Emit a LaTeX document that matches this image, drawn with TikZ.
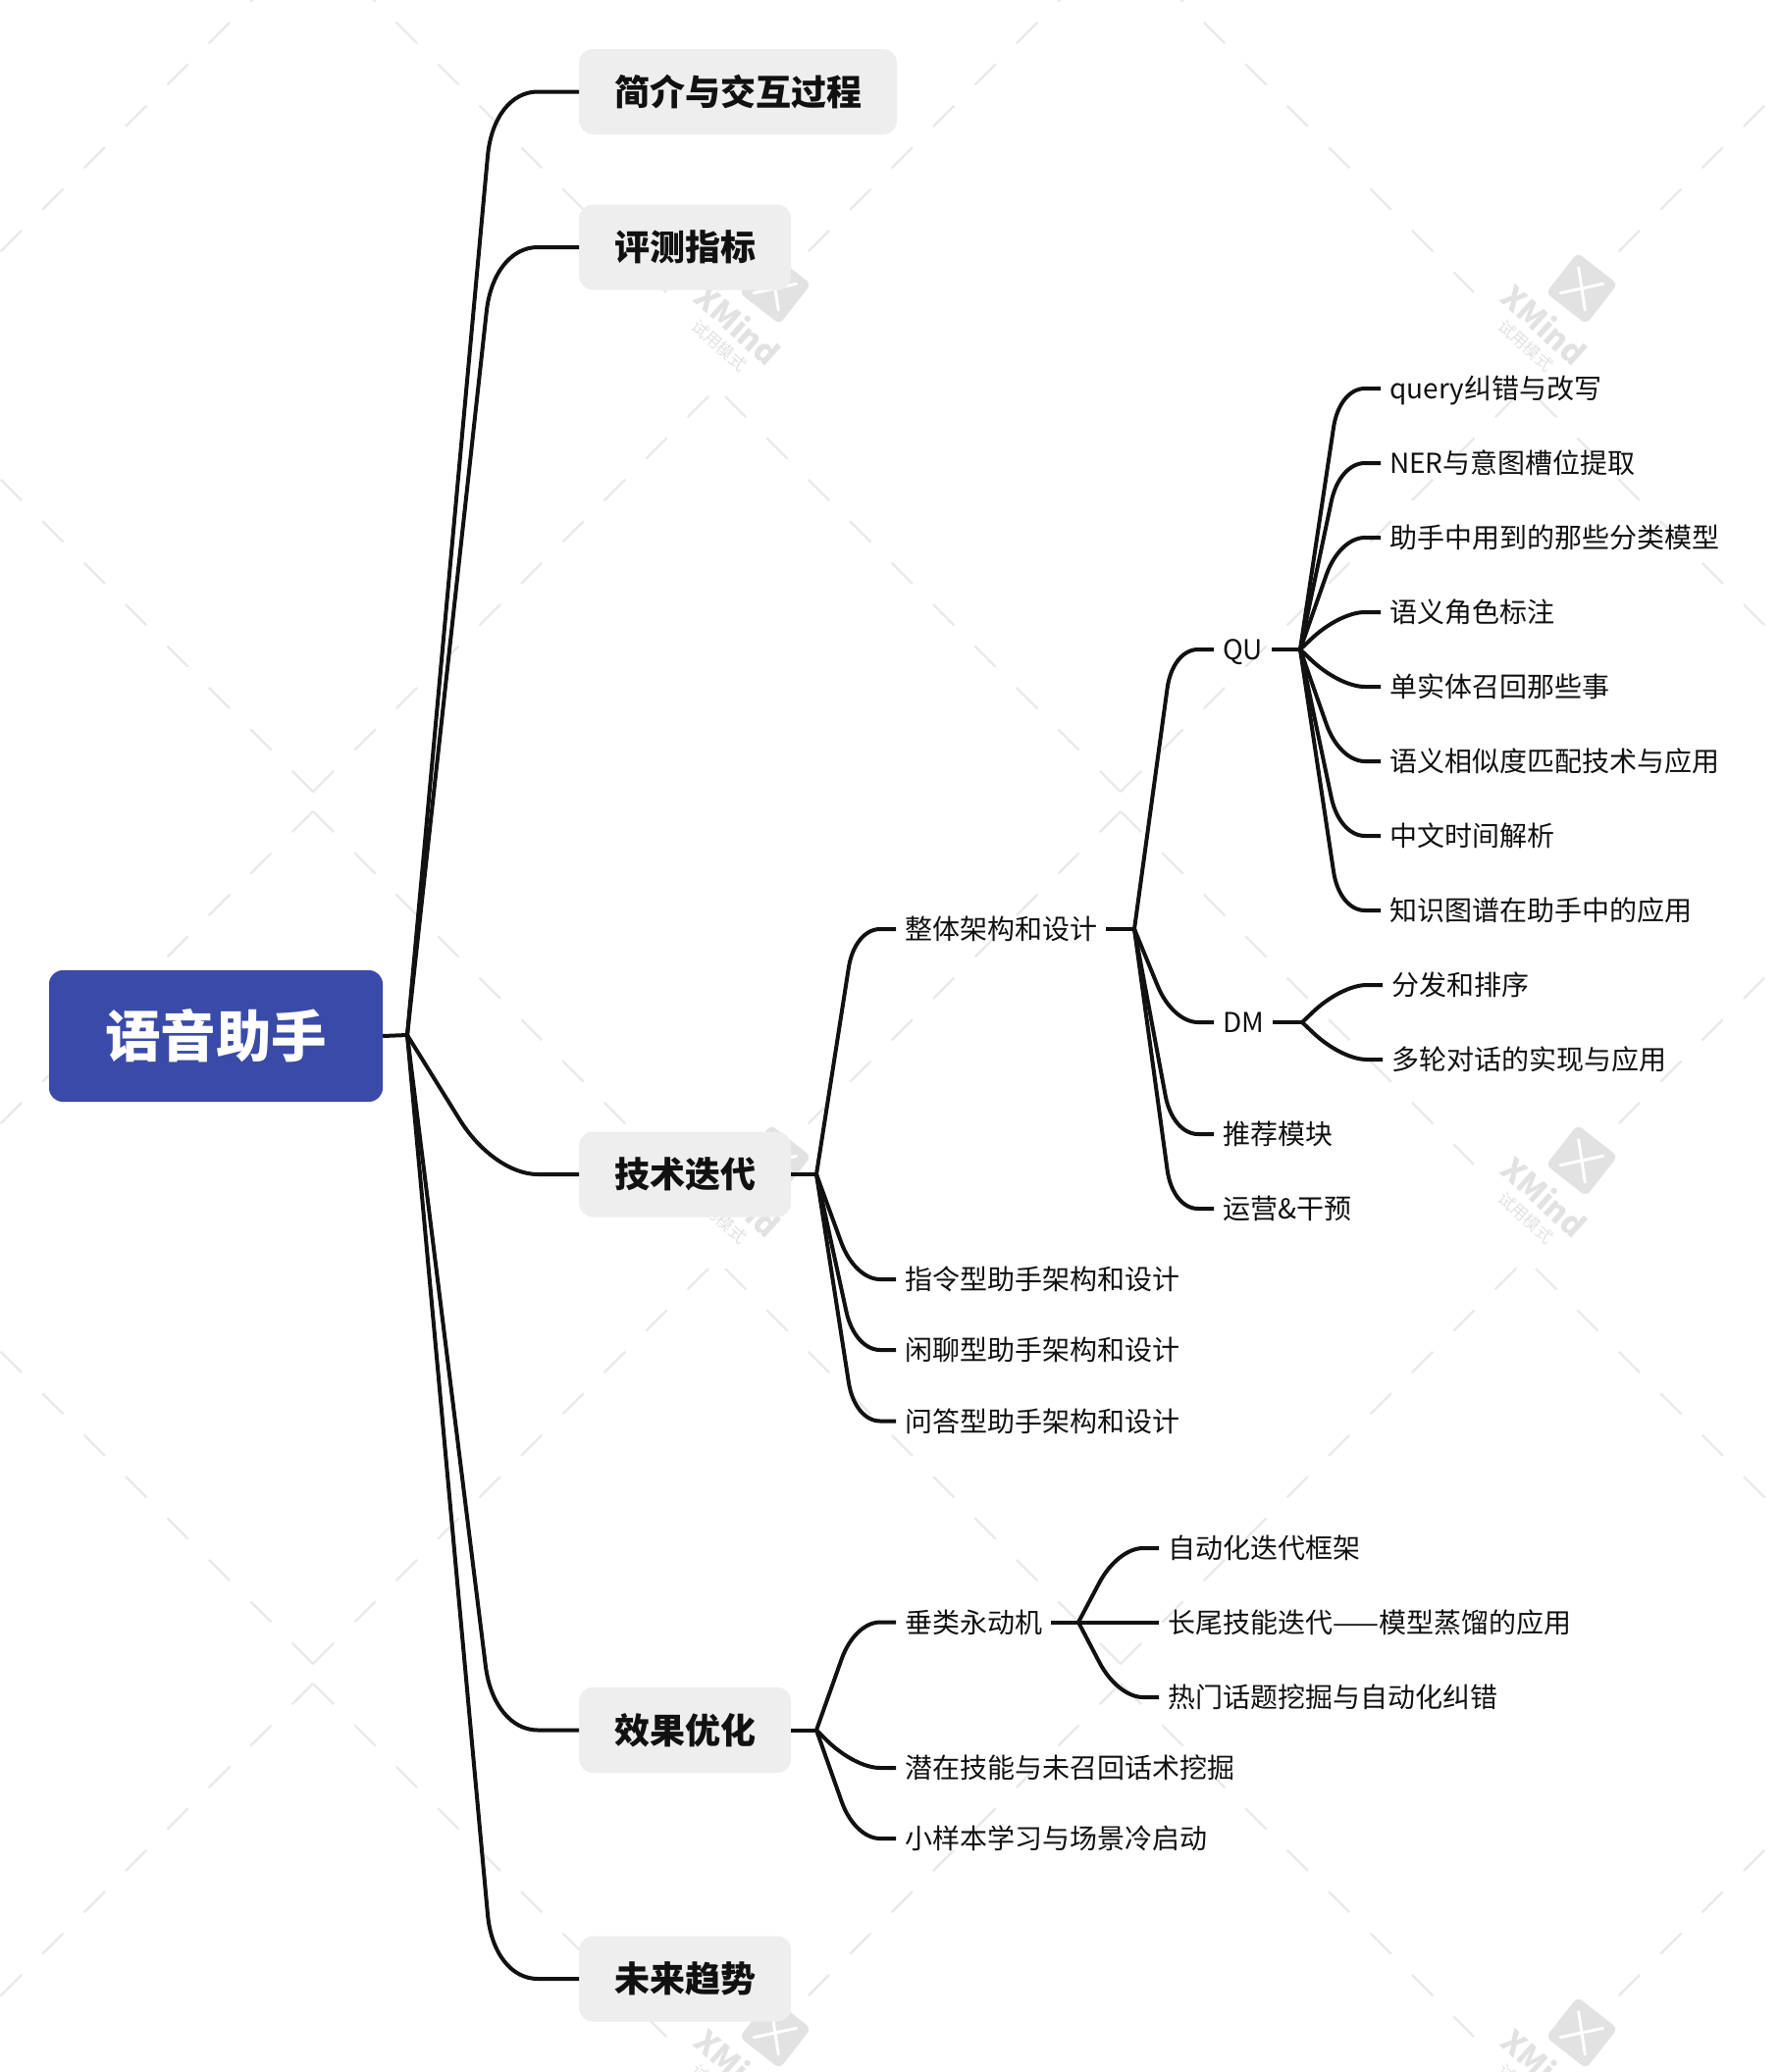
\documentclass[tikz,border=0pt]{standalone}
\usepackage{fontspec}
\setmainfont{Noto Sans CJK SC}
\usetikzlibrary{calc}
\definecolor{rootblue}{HTML}{3A4AA8}
\definecolor{boxgrey}{HTML}{EEEEEE}
\definecolor{ink}{HTML}{111111}
\definecolor{wmline}{HTML}{E9E9E9}
\definecolor{wmlogo}{HTML}{E2E2E2}
\tikzset{
  rootbox/.style={fill=rootblue,text=white,rounded corners=14pt,minimum width=340pt,minimum height=134pt,inner sep=0pt,text height=49.7pt,text depth=6.8pt,font=\fontsize{56.5}{60}\selectfont\bfseries},
  mainbox/.style={fill=boxgrey,text=ink,rounded corners=14pt,minimum height=87pt,inner ysep=0pt,inner xsep=36pt,anchor=west,text height=31.7pt,text depth=4.3pt,font=\fontsize{36}{40}\selectfont\bfseries},
  leaf/.style={text=ink,anchor=west,inner xsep=9pt,inner ysep=0pt,text height=24.6pt,text depth=3.4pt,font=\fontsize{28}{30}\selectfont},
  link/.style={draw=ink,line width=4pt,line join=round},
  wmdash/.style={draw=wmline,line width=2.4pt,dash pattern=on 30pt off 30pt},
  wmsquare/.style={fill=wmlogo,rounded corners=6pt,minimum size=52pt,inner sep=0pt,rotate=-38},
  wmname/.style={text=wmlogo,rotate=-42,inner sep=0pt,font=\fontsize{32}{34}\selectfont\bfseries},
  wmtrial/.style={text=wmlogo,rotate=-42,inner sep=0pt,font=\fontsize{17}{19}\selectfont},
  wmx/.style={draw=white,line width=3pt,line cap=round},
}
% #1 junction, #2 target node, #3 elbow inset, #4 and #5 rounding lengths
\newcommand{\branch}[5]{%
  \path ($(#2.west)+(-#3pt,0)$) coordinate (cn);
  \path ($(cn)!#4pt!(#1)$) coordinate (ps) ($(cn)!#5pt!(#2.west)$) coordinate (qs);
  \draw[link] (#1) -- (ps) .. controls ($(ps)!.6!(cn)$) and ($(qs)!.6!(cn)$) .. (qs) -- (#2.west);}
\newcommand{\branchA}[2]{\branch{#1}{#2}{87}{66}{45}}
\newcommand{\branchB}[2]{\branch{#1}{#2}{42}{40}{26}}
\begin{document}
\begin{tikzpicture}[x=1pt,y=-1pt]
\useasboundingbox (0,0) rectangle (1814,2112);
\fill[white] (0,0) rectangle (1814,2112);
% watermark lattice
\begin{scope}
\clip (0,0) rectangle (1814,2112);
\foreach \ax in {-503,319,1142,1968}{
  \foreach \ay in {-62,827,1716}{
    \coordinate (la) at (\ax,\ay);
    \coordinate (lb) at (\ax+360,\ay+360);
    \coordinate (lc) at (\ax-360,\ay+360);
    \draw[wmdash] (la) -- (lb);
    \draw[wmdash] (la) -- (lc);
  }
  \foreach \vy in {807,1696}{
    \coordinate (va) at (\ax,\vy);
    \coordinate (vb) at (\ax+403,\vy-403);
    \coordinate (vc) at (\ax-403,\vy-403);
    \draw[wmdash] (va) -- (vb);
    \draw[wmdash] (va) -- (vc);
  }
}
\foreach \lx in {790,1612}{
  \foreach \ly in {294,1183,2072}{
    \node[wmsquare] (logo\lx\ly) at (\lx,\ly) {};
    \draw[wmx] (\lx-3.3,\ly-21.3) -- (\lx+3.3,\ly+22);
    \draw[wmx] (\lx-22,\ly+4.7) -- (\lx+21.7,\ly-4.7);
    \node[wmname] (mark\lx\ly) at (\lx-38,\ly+37) {XMind};
    \node[wmtrial] (trial\lx\ly) at (\lx-57,\ly+58) {试用模式};
  }
}
\end{scope}
% nodes
\node[rootbox] (root) at (220,1056) {语音助手};
\coordinate (j0) at (415,1055);
\node[mainbox] (intro) at (590,93.5) {简介与交互过程};
\node[mainbox] (metric) at (590,252) {评测指标};
\node[mainbox] (tech) at (590,1197) {技术迭代};
\node[mainbox] (effect) at (590,1763.5) {效果优化};
\node[mainbox] (future) at (590,2017) {未来趋势};
\coordinate (j1) at (832,1197);
\coordinate (j2) at (832,1763.5);
\node[leaf] (arch) at (913,947) {整体架构和设计};
\node[leaf] (cmd) at (913,1304) {指令型助手架构和设计};
\node[leaf] (chat) at (913,1376) {闲聊型助手架构和设计};
\node[leaf] (qa) at (913,1448.5) {问答型助手架构和设计};
\coordinate (j3) at (1156,947);
\node[leaf] (qu) at (1237,662) {QU};
\node[leaf] (dm) at (1237,1042) {DM};
\node[leaf] (rec) at (1237,1156) {推荐模块};
\node[leaf] (ops) at (1237,1232) {运营\&干预};
\coordinate (j4) at (1325,662);
\node[leaf] (q1) at (1407,396) {query纠错与改写};
\node[leaf] (q2) at (1407,472) {NER与意图槽位提取};
\node[leaf] (q3) at (1407,548) {助手中用到的那些分类模型};
\node[leaf] (q4) at (1407,624) {语义角色标注};
\node[leaf] (q5) at (1407,700) {单实体召回那些事};
\node[leaf] (q6) at (1407,776) {语义相似度匹配技术与应用};
\node[leaf] (q7) at (1407,852) {中文时间解析};
\node[leaf] (q8) at (1407,928) {知识图谱在助手中的应用};
\coordinate (j5) at (1327,1042);
\node[leaf] (d1) at (1409,1004) {分发和排序};
\node[leaf] (d2) at (1409,1080) {多轮对话的实现与应用};
\node[leaf] (perp) at (913,1653.5) {垂类永动机};
\node[leaf] (latent) at (913,1802) {潜在技能与未召回话术挖掘};
\node[leaf] (few) at (913,1874) {小样本学习与场景冷启动};
\coordinate (j6) at (1099,1653.5);
\node[leaf] (p1) at (1181,1578) {自动化迭代框架};
\node[leaf] (p2) at (1181,1653.5) {长尾技能迭代——模型蒸馏的应用};
\node[leaf] (p3) at (1181,1730) {热门话题挖掘与自动化纠错};
% connectors
\draw[link] (root.east) -- (j0);
\branchA{j0}{intro}
\branchA{j0}{metric}
\branchA{j0}{tech}
\branchA{j0}{effect}
\branchA{j0}{future}
\draw[link] (tech.east) -- (j1);
\draw[link] (effect.east) -- (j2);
\branchB{j1}{arch}
\branchB{j1}{cmd}
\branchB{j1}{chat}
\branchB{j1}{qa}
\draw[link] (arch.east) -- (j3);
\branchB{j3}{qu}
\branchB{j3}{dm}
\branchB{j3}{rec}
\branchB{j3}{ops}
\draw[link] (qu.east) -- (j4);
\foreach \t in {q1,q2,q3,q4,q5,q6,q7,q8}{\branchB{j4}{\t}}
\draw[link] (dm.east) -- (j5);
\branchB{j5}{d1}
\branchB{j5}{d2}
\branchB{j2}{perp}
\branchB{j2}{latent}
\branchB{j2}{few}
\draw[link] (perp.east) -- (j6);
\branchB{j6}{p1}
\branchB{j6}{p2}
\branchB{j6}{p3}
\end{tikzpicture}
\end{document}
